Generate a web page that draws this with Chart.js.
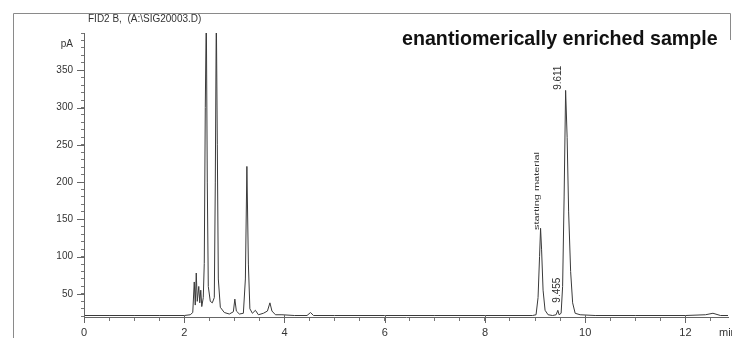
<!DOCTYPE html>
<html>
<head>
<meta charset="utf-8">
<script src="https://cdn.jsdelivr.net/npm/chart.js@4/dist/chart.umd.min.js"></script>
<style>
html,body{margin:0;padding:0;background:#fff;}
#wrap{position:relative;width:732px;height:338px;}
</style>
</head>
<body>
<div id="wrap"><canvas id="c" width="732" height="338"></canvas></div>
<script>
// Retention time (min) and detector signal (pA)
const times = [0.00,0.50,1.00,1.50,2.00,2.12,2.17,2.20,2.22,2.24,2.26,2.29,2.31,2.33,2.35,2.38,2.40,2.42,2.44,2.46,2.48,2.52,2.56,2.60,2.62,2.64,2.66,2.68,2.72,2.80,2.90,2.98,3.01,3.04,3.10,3.18,3.22,3.25,3.28,3.31,3.36,3.42,3.48,3.58,3.66,3.71,3.75,3.82,3.95,4.20,4.45,4.52,4.58,5.00,6.00,7.00,8.00,8.50,8.95,9.02,9.06,9.09,9.11,9.13,9.16,9.20,9.26,9.35,9.42,9.455,9.48,9.52,9.55,9.58,9.61,9.64,9.67,9.71,9.75,9.80,9.90,10.20,11.00,12.00,12.40,12.55,12.70,12.85];
const signal = [21,21,21,21,21,22,25,66,35,78,40,60,38,55,33,45,91,300,430,200,60,40,38,45,200,430,250,70,32,25,23,26,43,27,23,24,70,221,90,30,24,28,22,24,27,38,27,22,22,21,21,25,21,21,21,21,21,21,21,22,45,100,138,110,55,28,22,21,22,28,22,24,60,180,323,260,160,80,38,24,22,21,21,21,22,24,21,21];

const xTickLabels = [0,2,4,6,8,10,12];
const yTickLabels = [50,100,150,200,250,300,350];

const titleText = 'FID2 B,  (A:\\SIG20003.D)';
const sampleText = 'enantiomerically enriched sample';
const yUnit = 'pA';
const xUnit = 'min';
const peakNotes = [
  {text:'9.611', x:9.46, y:340, size:10, len:0},
  {text:'starting material', x:9.04, y:188, size:7, len:78},
  {text:'9.455', x:9.44, y:55, size:10, len:0}
];

const points = times.map((t,i)=>({x:t,y:signal[i]}));
const FONT = '"Liberation Sans", Arial, sans-serif';

const decor = {
  id:'decor',
  afterDraw(chart){
    const ctx = chart.ctx, xs = chart.scales.x, ys = chart.scales.y, ca = chart.chartArea;
    ctx.save();
    // outer frame
    ctx.strokeStyle = '#8a8a8a'; ctx.lineWidth = 1;
    ctx.beginPath();
    ctx.moveTo(13.5,338); ctx.lineTo(13.5,13.5); ctx.lineTo(730.5,13.5); ctx.lineTo(730.5,40);
    ctx.stroke();
    // longer major ticks
    ctx.strokeStyle = '#666';
    ctx.beginPath();
    yTickLabels.forEach(v=>{const p=Math.round(ys.getPixelForValue(v))+0.5; ctx.moveTo(ca.left-7,p); ctx.lineTo(ca.left,p);});
    xTickLabels.forEach(v=>{const p=Math.round(xs.getPixelForValue(v))+0.5; ctx.moveTo(p,ca.bottom-2); ctx.lineTo(p,ca.bottom+6);});
    ctx.stroke();
    // texts
    ctx.fillStyle = '#333';
    ctx.textBaseline = 'middle';
    ctx.font = '10px ' + FONT;
    ctx.textAlign = 'left';
    ctx.fillText(titleText, 88, 19);
    ctx.textAlign = 'right';
    ctx.fillText(yUnit, 73, 44);
    ctx.textAlign = 'left';
    ctx.font = '11px ' + FONT;
    ctx.fillText(xUnit, 719, 333);
    // bold heading fit to width
    ctx.fillStyle = '#111';
    ctx.font = 'bold 17px ' + FONT;
    const w = ctx.measureText(sampleText).width;
    const sz = 17 * 316 / w;
    ctx.font = 'bold ' + sz.toFixed(2) + 'px ' + FONT;
    ctx.fillText(sampleText, 402, 40);
    // rotated peak notes
    ctx.fillStyle = '#333';
    peakNotes.forEach(n=>{
      ctx.save();
      ctx.translate(xs.getPixelForValue(n.x), ys.getPixelForValue(n.y));
      ctx.rotate(-Math.PI/2);
      ctx.font = n.size + 'px ' + FONT;
      ctx.textAlign = 'center';
      if (n.len) { const m = ctx.measureText(n.text).width; ctx.scale(n.len/m, 1); }
      ctx.fillText(n.text, 0, 0);
      ctx.restore();
    });
    ctx.restore();
  }
};

new Chart(document.getElementById('c'), {
  type:'line',
  data:{datasets:[{data:points, borderColor:'#3a3a3a', borderWidth:1, pointRadius:0, tension:0, fill:false}]},
  options:{
    responsive:false, animation:false,
    layout:{padding:{top:33,right:4,left:0,bottom:0}},
    plugins:{legend:{display:false}, tooltip:{enabled:false}},
    scales:{
      x:{type:'linear', min:0, max:12.85,
        afterBuildTicks:s=>{const t=[];for(let v=0;v<=12.5+1e-9;v+=0.5)t.push({value:v});s.ticks=t;},
        afterFit:s=>{s.height=21;},
        ticks:{autoSkip:false, maxRotation:0, padding:5, color:'#333', font:{size:11, family:FONT},
          callback:v=>xTickLabels.includes(v)?String(v):''},
        grid:{drawOnChartArea:false, tickLength:4, color:'#777'},
        border:{color:'#666'}},
      y:{type:'linear', min:19, max:400,
        afterBuildTicks:s=>{const t=[];for(let v=20;v<=400;v+=10)t.push({value:v});s.ticks=t;},
        afterFit:s=>{s.width=84;},
        ticks:{autoSkip:false, padding:8, color:'#333', font:{size:10, family:FONT},
          callback:v=>yTickLabels.includes(v)?String(v):''},
        grid:{drawOnChartArea:false, tickLength:3, color:'#777'},
        border:{color:'#666'}}
    }
  },
  plugins:[decor]
});
</script>
</body>
</html>
